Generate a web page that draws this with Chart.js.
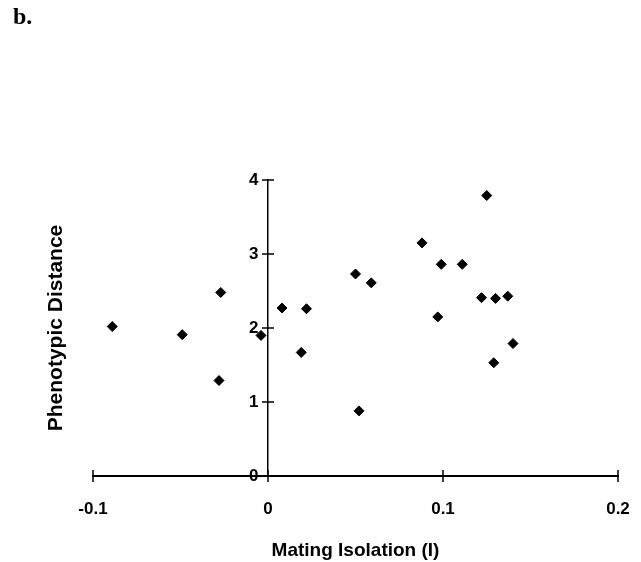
<!DOCTYPE html>
<html>
<head>
<meta charset="utf-8">
<script src="https://cdn.jsdelivr.net/npm/chart.js@4.4.1/dist/chart.umd.min.js"></script>
<style>
  body { margin: 0; background: #fff; }
  #wrap { width: 641px; height: 562px; }
</style>
</head>
<body>
<div id="wrap"><canvas id="scatterChart" width="641" height="562"></canvas></div>
<script>
// === Datos ===
const panelLabel = 'b.';
const xTitle = 'Mating Isolation (I)';
const yTitle = 'Phenotypic Distance';
const isolation = [-0.089, -0.049, -0.027, -0.028, -0.004, 0.008, 0.022, 0.019,
  0.125, 0.088, 0.099, 0.111, 0.050, 0.059, 0.122, 0.130, 0.137, 0.097, 0.140, 0.129, 0.052];
const distance = [2.02, 1.91, 2.48, 1.29, 1.90, 2.27, 2.26, 1.67,
  3.79, 3.15, 2.86, 2.86, 2.73, 2.61, 2.41, 2.40, 2.43, 2.15, 1.79, 1.53, 0.88];
const xTicks = [-0.1, 0, 0.1, 0.2];
const yTicks = [0, 1, 2, 3, 4];

const puntos = isolation.map((x, i) => ({ x: x, y: distance[i] }));
const sans = "'Liberation Sans', Arial, sans-serif";

// ticks cruzados sobre los ejes
const crossTicks = {
  id: 'crossTicks',
  afterDraw(chart) {
    const { ctx } = chart;
    const xs = chart.scales.x;
    const ys = chart.scales.y;
    const x0 = xs.getPixelForValue(0);
    const y0 = ys.getPixelForValue(0);
    ctx.save();
    ctx.strokeStyle = '#000';
    ctx.lineWidth = 1.5;
    ctx.beginPath();
    xTicks.forEach(v => {
      const px = xs.getPixelForValue(v);
      ctx.moveTo(px, y0 - 6);
      ctx.lineTo(px, y0 + 6);
    });
    yTicks.forEach(v => {
      if (v === 0) return;
      const py = ys.getPixelForValue(v);
      ctx.moveTo(x0 - 6, py);
      ctx.lineTo(x0 + 6, py);
    });
    ctx.stroke();
    ctx.restore();
  }
};

new Chart(document.getElementById('scatterChart'), {
  type: 'scatter',
  data: {
    datasets: [{
      data: puntos,
      pointStyle: 'rectRot',
      pointRadius: 5,
      pointBorderWidth: 1,
      backgroundColor: '#000',
      borderColor: '#000'
    }]
  },
  options: {
    responsive: false,
    animation: false,
    layout: { padding: { left: 13, right: 23, top: 0, bottom: 0 } },
    plugins: {
      legend: { display: false },
      tooltip: { enabled: false },
      title: {
        display: true,
        text: panelLabel,
        align: 'start',
        color: '#000',
        font: { family: "'Liberation Serif', 'Times New Roman', serif", size: 24, weight: 'bold' },
        padding: { top: 3, bottom: 148.2 }
      }
    },
    scales: {
      x: {
        type: 'linear',
        position: 'bottom',
        min: -0.1,
        max: 0.2,
        afterBuildTicks: s => { s.ticks = xTicks.map(v => ({ value: v })); },
        afterFit: s => { s.height = 86; },
        // tick invisible largo para bajar las etiquetas sin ensanchar el padding lateral
        grid: { drawOnChartArea: false, drawTicks: true, tickLength: 20, tickColor: 'rgba(0,0,0,0)' },
        border: { display: true, color: '#000', width: 2 },
        ticks: { color: '#000', padding: 3, font: { family: sans, size: 17, weight: 'bold' } },
        title: {
          display: true,
          text: xTitle,
          color: '#000',
          font: { family: sans, size: 19, weight: 'bold' },
          padding: { top: 0, bottom: 0 }
        }
      },
      y: {
        type: 'linear',
        position: { x: 0 },
        min: 0,
        max: 4,
        afterBuildTicks: s => { s.ticks = yTicks.map(v => ({ value: v })); },
        afterFit: s => { s.width = 0; },
        grid: { drawOnChartArea: false, drawTicks: false },
        border: { display: true, color: '#000', width: 1.5 },
        // el eje va en x=0: separar las etiquetas de la línea
        ticks: {
          color: '#000',
          font: { family: sans, size: 17, weight: 'bold' },
          callback: v => v + '  '
        }
      },
      yt: {
        type: 'linear',
        position: 'left',
        min: 0,
        max: 4,
        afterFit: s => { s.width = 80; },
        grid: { display: false },
        border: { display: false },
        ticks: { display: false },
        title: {
          display: true,
          text: yTitle,
          color: '#000',
          font: { family: sans, size: 21, weight: 'bold' },
          padding: { top: 31, bottom: 0 }
        }
      }
    }
  },
  plugins: [crossTicks]
});
</script>
</body>
</html>
